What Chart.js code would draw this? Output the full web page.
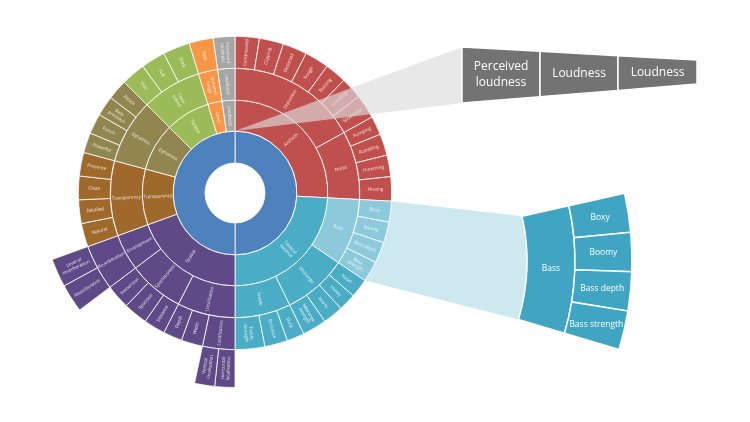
<!DOCTYPE html>
<html><head><meta charset="utf-8">
<script src="https://cdn.jsdelivr.net/npm/chart.js@4/dist/chart.umd.min.js"></script>
<style>
html,body{margin:0;padding:0;background:#fff;overflow:hidden;width:750px;height:422px;}
#wrap{position:relative;width:750px;height:422px;overflow:hidden;}
#c{position:absolute;left:0;top:-2px;}
</style></head><body>
<div id="wrap"><canvas id="c" width="750" height="430"></canvas></div>
<script>
// ---------------- DATA ----------------
const ring1Labels = ['', ''];
const ring1Values = [180, 180];

const ring2Labels = ['Artifacts','Timbral balance','Spatial','Transparency','Dynamics','Timbre','Level','Loudness'];
const ring2Values = [93, 87, 70, 35, 30, 28, 9, 8];

const ring3Labels = ['Distortion','Noise','Bass','Midrange','Treble','Localisation','Spaciousness','Envelopment','Transparency','Dynamics','Tone colour','Dynamic range','Loudness'];
const ring3Values = [61, 32, 31, 30, 26, 27, 26, 17, 35, 30, 28, 9, 8];

const ring4Labels = ['Compressed','Clipping','Distorted','Rough','Buzzing','Crackling','Sputtering',
  'Pumping','Rumbling','Humming','Hissing',
  'Boxy','Boomy','Bass depth','Bass strength',
  'Nasal','Honky','Warm','Midrange strength',
  'Shrill','Brilliance','Treble strength',
  'Localisation','Width','Depth',
  'Distance','Spacious','Immersion',
  'Reverberation',
  'Natural','Detailed','Clean','Presence',
  'Powerful','Punch','Bass precision','Attack',
  'Thin','Full','Dark',
  'Gain',
  'Perceived loudness'];
const ring4Values = [9,9,9,9,8,8,9, 7,8,8,9, 7.75,7.75,7.75,7.75, 7,6.5,7.5,9, 6.5,8.5,11,
  12,8,7, 8,9,9, 17, 8.75,8.75,8.75,8.75, 7.5,7.5,7.5,7.5, 9,9,10, 9, 8];

const ring5Labels = ['', 'Horizontal localisation', 'Vertical localisation', '', 'Reverberance', 'Level of reverberation', ''];
const ring5Values = [180, 6, 6, 41, 8.5, 8.5, 110];

// ---------------- STYLE ----------------
const C = {blue:'#4f81bd', red:'#c0504d', teal:'#4bacc6', bass:'#8ccadb', purple:'#5f4a87',
  brown:'#a0692c', olive:'#918650', green:'#9bbb59', orange:'#f79646', gray:'#a5a5a5', none:'rgba(0,0,0,0)'};
const rep = (c, n) => Array(n).fill(c);
const ring1Colors = [C.blue, C.blue];
const ring2Colors = [C.red, C.teal, C.purple, C.brown, C.olive, C.green, C.orange, C.gray];
const ring3Colors = [C.red, C.red, C.bass, C.teal, C.teal, C.purple, C.purple, C.purple, C.brown, C.olive, C.green, C.orange, C.gray];
const ring4Colors = [].concat(rep(C.red,11), rep(C.bass,4), rep(C.teal,7), rep(C.purple,7), rep(C.brown,4), rep(C.olive,4), rep(C.green,3), [C.orange, C.gray]);
const ring5Colors = [C.none, C.purple, C.purple, C.none, C.purple, C.purple, C.none];
const ring5Borders = [0,1,1,0,1,1,0];
const BORDER = 'rgba(255,255,255,0.8)';
const OFF = 2; // page y -> canvas y

function wrapLabel(s){
  if (s.length <= 10 || s.indexOf(' ') < 0) return [s];
  const mid = s.length/2; let best=-1, bd=1e9;
  for (let i=0;i<s.length;i++) if (s[i]===' ' && Math.abs(i-mid)<bd){bd=Math.abs(i-mid);best=i;}
  return [s.slice(0,best), s.slice(best+1)];
}

const labelPlugin = {
  id:'ringLabels',
  afterDatasetsDraw(chart){
    const ctx = chart.ctx;
    chart.data.datasets.forEach((ds, di) => {
      if (!ds.labelsText) return;
      const meta = chart.getDatasetMeta(di);
      meta.data.forEach((arc, i) => {
        const text = ds.labelsText[i];
        if (!text) return;
        const p = arc.getProps(['x','y','startAngle','endAngle','innerRadius','outerRadius'], true);
        const a = (p.startAngle + p.endAngle)/2;
        const r = (p.innerRadius + p.outerRadius)/2;
        ctx.save();
        ctx.translate(p.x + r*Math.cos(a), p.y + r*Math.sin(a));
        let rot = a;
        if (Math.cos(a) < -0.001) rot += Math.PI;
        ctx.rotate(rot);
        ctx.fillStyle = 'rgba(255,255,255,0.85)';
        ctx.font = "4.6px 'Open Sans'";
        ctx.textAlign = 'center'; ctx.textBaseline = 'middle';
        const lines = wrapLabel(text);
        const lh = 5.2;
        lines.forEach((ln, k) => ctx.fillText(ln, 0, (k - (lines.length-1)/2)*lh));
        ctx.restore();
      });
    });
  }
};

// callouts (magnified views)
const calloutPlugin = {
  id:'callouts',
  beforeDatasetsDraw(chart){
    const ctx = chart.ctx;
    const bassArc = chart.getDatasetMeta(2).data[2].getProps(['x','y','startAngle','endAngle'], true);
    const outerR = chart.getDatasetMeta(1).data[11].getProps(['outerRadius'], true).outerRadius;
    const g = tealGeom();
    ctx.save();
    ctx.beginPath();
    ctx.moveTo(bassArc.x + outerR*Math.cos(bassArc.startAngle), bassArc.y + outerR*Math.sin(bassArc.startAngle));
    ctx.lineTo(g.cx + g.r0*Math.cos(g.a0), g.cy + g.r0*Math.sin(g.a0));
    ctx.arc(g.cx, g.cy, g.r0, g.a0, g.a1);
    ctx.lineTo(bassArc.x + outerR*Math.cos(bassArc.endAngle), bassArc.y + outerR*Math.sin(bassArc.endAngle));
    ctx.arc(bassArc.x, bassArc.y, outerR, bassArc.endAngle, bassArc.startAngle, true);
    ctx.closePath();
    ctx.fillStyle = 'rgba(146,205,220,0.45)';
    ctx.fill();
    ctx.restore();
  },
  afterDatasetsDraw(chart){
    const ctx = chart.ctx;
    const m2 = chart.getDatasetMeta(3);
    const gArc = m2.data[m2.data.length-1].getProps(['x','y','endAngle','innerRadius'], true);
    const tip = [gArc.x + gArc.innerRadius*Math.cos(gArc.endAngle), gArc.y + gArc.innerRadius*Math.sin(gArc.endAngle)];
    const bx0 = 462, bx1 = 697;
    const yt = x => 47 + (x-bx0)*(13/(bx1-bx0)) + OFF;
    const yb = x => 103 - (x-bx0)*(19/(bx1-bx0)) + OFF;
    ctx.save();
    ctx.beginPath();
    ctx.moveTo(tip[0], tip[1]);
    ctx.lineTo(bx0, yt(bx0));
    ctx.lineTo(bx0, yb(bx0));
    ctx.closePath();
    ctx.fillStyle = 'rgba(220,220,220,0.65)';
    ctx.fill();
    const boxTexts = [ring4Labels[ring4Labels.length-1], ring3Labels[ring3Labels.length-1], ring2Labels[ring2Labels.length-1]];
    const xs = [462, 540, 618, 697];
    for (let i=0;i<3;i++){
      const xa = xs[i], xb = xs[i+1];
      ctx.beginPath();
      ctx.moveTo(xa, yt(xa)); ctx.lineTo(xb, yt(xb)); ctx.lineTo(xb, yb(xb)); ctx.lineTo(xa, yb(xa)); ctx.closePath();
      ctx.fillStyle = '#737373'; ctx.fill();
      ctx.strokeStyle = '#ffffff'; ctx.lineWidth = 1.5; ctx.stroke();
      const xm = (xa+xb)/2, ym = (yt(xm)+yb(xm))/2;
      ctx.fillStyle = '#ffffff'; ctx.font = "12px 'Open Sans'";
      ctx.textAlign = 'center'; ctx.textBaseline = 'middle';
      const lines = boxTexts[i].indexOf(' ')>0 ? boxTexts[i].split(' ') : [boxTexts[i]];
      lines.forEach((ln,k) => ctx.fillText(ln, xm, ym + (k-(lines.length-1)/2)*16));
    }
    ctx.restore();

    const g = tealGeom();
    const kids = ring4Labels.slice(11, 15), kidVals = ring4Values.slice(11, 15);
    const tot = kidVals.reduce((s,v)=>s+v, 0);
    const sector = (ra, rb, s, e) => {
      ctx.beginPath(); ctx.arc(g.cx, g.cy, rb, s, e); ctx.arc(g.cx, g.cy, ra, e, s, true); ctx.closePath();
      ctx.fillStyle = '#3fa5c2'; ctx.fill();
      ctx.strokeStyle = '#ffffff'; ctx.lineWidth = 1.5; ctx.stroke();
    };
    ctx.save();
    sector(g.r0, g.r1, g.a0, g.a1);
    ctx.fillStyle = '#ffffff'; ctx.font = "8.5px 'Open Sans'"; ctx.textAlign='center'; ctx.textBaseline='middle';
    const am = (g.a0+g.a1)/2, rm = (g.r0+g.r1)/2;
    ctx.fillText(ring3Labels[2], g.cx + rm*Math.cos(am), g.cy + rm*Math.sin(am));
    let acc = g.a0;
    kidVals.forEach((v, i) => {
      const e = acc + (g.a1-g.a0)*v/tot;
      sector(g.r1, g.r2, acc, e);
      const a = (acc+e)/2, r = (g.r1+g.r2)/2;
      ctx.fillStyle = '#ffffff';
      ctx.fillText(kids[i], g.cx + r*Math.cos(a), g.cy + r*Math.sin(a));
      acc = e;
    });
    ctx.restore();
  }
};
function tealGeom(){
  return {cx:322, cy:261+OFF, r0:205, r1:253, r2:310, a0:-12.6*Math.PI/180, a1:16.6*Math.PI/180};
}

const mk = (values, labels, colors, weight, borders) => ({
  data: values, labelsText: labels, backgroundColor: colors,
  borderColor: borders ? borders.map(b => b ? BORDER : C.none) : BORDER,
  borderWidth: borders ? borders : 1, weight: weight, hoverOffset: 0
});

new Chart(document.getElementById('c'), {
  type: 'doughnut',
  data: {
    labels: ring4Labels,
    datasets: [
      mk(ring5Values, ring5Labels, ring5Colors, 38, ring5Borders),
      mk(ring4Values, ring4Labels, ring4Colors, 32),
      mk(ring3Values, ring3Labels, ring3Colors, 32),
      mk(ring2Values, ring2Labels, ring2Colors, 31),
      mk(ring1Values, ring1Labels, ring1Colors, 32)
    ]
  },
  options: {
    responsive: false, animation: false, events: [],
    cutout: 30,
    layout: {padding: {left: 40, right: 320, top: 0, bottom: 40}},
    plugins: {legend: {display: false}, tooltip: {enabled: false}}
  },
  plugins: [labelPlugin, calloutPlugin]
});
</script>
</body></html>
